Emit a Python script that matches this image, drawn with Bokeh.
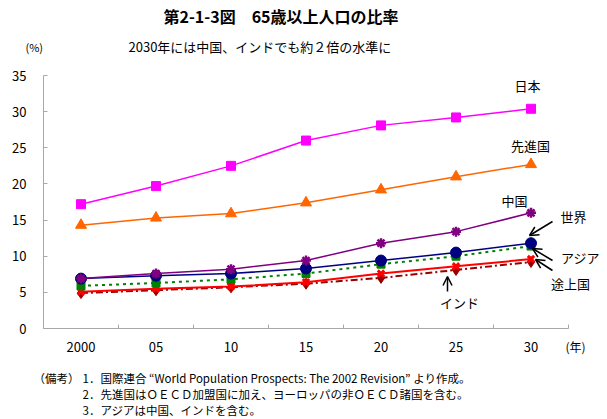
from bokeh.plotting import figure
from bokeh.models import Range1d, FixedTicker, Label, Arrow, OpenHead
from bokeh.embed import file_html
from bokeh.resources import INLINE

# ---- data ----
years = ["2000", "05", "10", "15", "20", "25", "30"]
japan = [17.2, 19.7, 22.5, 26.0, 28.1, 29.2, 30.4]
developed = [14.3, 15.3, 15.9, 17.4, 19.2, 21.0, 22.7]
china = [6.9, 7.6, 8.2, 9.4, 11.8, 13.4, 16.0]
world = [6.9, 7.3, 7.6, 8.3, 9.4, 10.5, 11.8]
asia = [5.9, 6.3, 6.8, 7.6, 8.9, 10.0, 11.4]
developing = [5.1, 5.5, 5.8, 6.4, 7.6, 8.6, 9.6]
india = [4.9, 5.3, 5.7, 6.2, 7.0, 8.1, 9.2]
y_ticks = [0, 5, 10, 15, 20, 25, 30, 35]
y_min, y_max = 0, 35

title_text = "第2-1-3図　65歳以上人口の比率"
subtitle_text = "2030年には中国、インドでも約２倍の水準に"
notes = [
    "1．国際連合 “World Population Prospects: The 2002 Revision” より作成。",
    "2．先進国はＯＥＣＤ加盟国に加え、ヨーロッパの非ＯＥＣＤ諸国を含む。",
    "3．アジアは中国、インドを含む。",
]

JP = "Noto Sans CJK JP"
W, H = 607, 419
# pixel box of the chart area inside the canvas
X0, X1 = 43, 568
YB, YT = 328, 75
n = len(years)
xs = list(range(n))

kx = (X1 - X0) / n                 # px per category
ky = (YB - YT) / (y_max - y_min)   # px per percent

# frame covers the whole canvas; axes are pinned with fixed_location
x_range = Range1d(-0.5 - X0 / kx, n - 0.5 + (W - X1) / kx)
y_range = Range1d(y_min - (H - YB) / ky, y_max + YT / ky)

p = figure(width=W, height=H, x_range=x_range, y_range=y_range,
           output_backend="svg", toolbar_location=None, title=None,
           min_border=0, min_border_left=0, min_border_right=0,
           min_border_top=0, min_border_bottom=0)
p.outline_line_color = None
p.xgrid.visible = False
p.ygrid.visible = False
p.background_fill_color = "white"
p.border_fill_color = "white"

axis_col = "#a8a8a8"
# x axis
p.xaxis.fixed_location = y_min
p.xaxis.bounds = (-0.5, n - 0.5)
p.xaxis.ticker = FixedTicker(ticks=xs, minor_ticks=[i - 0.5 for i in range(n + 1)])
p.xaxis.major_label_overrides = {i: y for i, y in enumerate(years)}
p.xaxis.major_tick_line_color = None
p.xaxis.minor_tick_in = 4
p.xaxis.minor_tick_out = 0
p.xaxis.minor_tick_line_color = axis_col
p.xaxis.axis_line_color = axis_col
p.xaxis.major_label_standoff = 7
# y axis
p.yaxis.fixed_location = -0.5
p.yaxis.bounds = (y_min, y_max)
p.yaxis.ticker = FixedTicker(ticks=y_ticks)
p.yaxis.major_tick_in = 4
p.yaxis.major_tick_out = 0
p.yaxis.major_tick_line_color = axis_col
p.yaxis.minor_tick_line_color = None
p.yaxis.axis_line_color = axis_col
p.yaxis.major_label_standoff = 17
for ax in (p.xaxis, p.yaxis):
    ax.major_label_text_font = JP
    ax.major_label_text_font_size = "13px"
    ax.major_label_text_color = "black"


def dx(px):
    return -0.5 + (px - X0) / kx


def dy(py):
    return y_min + (YB - py) / ky


# ---- series (drawn bottom to top) ----
p.line(xs, india, line_color="#990000", line_width=2, line_dash="7 3 2 3")
p.scatter(xs, india, marker="diamond", size=11, fill_color="#990000", line_color="#990000")

p.line(xs, developing, line_color="#ff0000", line_width=2)
p.scatter(xs, developing, marker="x", size=9, line_color="#ff0000", line_width=3)

p.line(xs, asia, line_color="#008000", line_width=2, line_dash="3 4")
p.scatter(xs, asia, marker="square", size=8, fill_color="#008000", line_color="#008000")

p.line(xs, world, line_color="#000080", line_width=1.5)
p.scatter(xs, world, marker="circle", size=11, fill_color="#000080", line_color="#000080")

p.line(xs, china, line_color="#800080", line_width=1.5)
p.scatter(xs, china, marker="asterisk", size=10, line_color="#800080", line_width=2.5)

p.line(xs, developed, line_color="#ff6600", line_width=1.5)
p.scatter(xs, developed, marker="triangle", size=11, fill_color="#ff6600", line_color="#ff6600")

p.line(xs, japan, line_color="#ff00ff", line_width=1.5)
p.scatter(xs, japan, marker="square", size=9, fill_color="#ff00ff", line_color="#ff00ff")


def lab(px, py, text, size="13px", align="center", style="normal", font=JP):
    p.add_layout(Label(x=dx(px), y=dy(py), text=text, text_font=font, text_font_size=size,
                       text_align=align, text_baseline="middle", text_font_style=style,
                       text_color="black"))


# titles and outside texts
lab(163, 15, title_text, size="16px", align="left", style="bold")
lab(128, 46, subtitle_text, size="13px", align="left")
lab(25, 46, "(%)", size="11px", align="left")
lab(565, 346, "(年)", size="12px", align="left")
lab(33, 377, "（備考）", size="11.5px", align="left")
for i, t in enumerate(notes):
    lab(82, 377 + 16 * i, t, size="11.5px", align="left")

# series labels
lab(527, 85, "日本")
lab(530, 145, "先進国")
lab(514, 200, "中国")
lab(573, 216, "世界")
lab(580, 257, "アジア")
lab(570, 283, "途上国")
lab(459, 302, "インド")

# arrows
for (x_s, y_s, x_e, y_e) in [(552, 221, 529, 235), (552, 260, 532, 248),
                             (552, 270, 535, 259), (447, 291, 447, 276)]:
    p.add_layout(Arrow(x_start=dx(x_s), y_start=dy(y_s), x_end=dx(x_e), y_end=dy(y_e),
                       line_color="black", line_width=1.5,
                       end=OpenHead(size=9, line_color="black", line_width=1.5)))

open("out.html", "w").write(file_html(p, INLINE))
